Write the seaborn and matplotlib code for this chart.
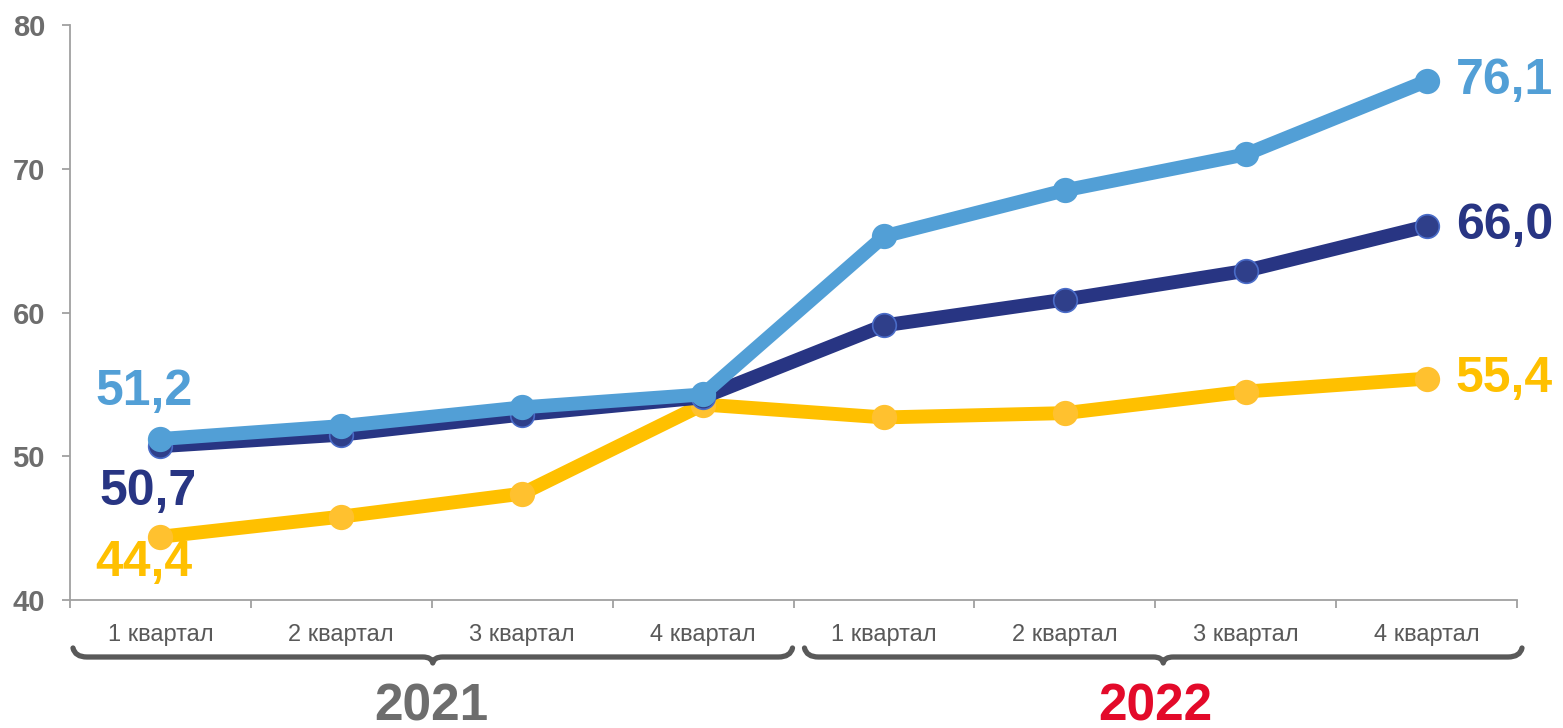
import numpy as np
import pandas as pd
import matplotlib
matplotlib.use("Agg")
import matplotlib.pyplot as plt
from matplotlib.path import Path
from matplotlib.patches import PathPatch
from matplotlib.transforms import IdentityTransform
import seaborn as sns

quarters = ["1 квартал", "2 квартал", "3 квартал", "4 квартал",
            "1 квартал", "2 квартал", "3 квартал", "4 квартал"]
years = ["2021", "2022"]
light_blue = [51.2, 52.1, 53.4, 54.3, 65.3, 68.5, 71.0, 76.1]
navy = [50.7, 51.5, 52.9, 54.1, 59.1, 60.9, 62.9, 66.0]
yellow = [44.4, 45.8, 47.4, 53.6, 52.7, 53.0, 54.5, 55.4]
y_ticks = [40, 50, 60, 70, 80]

sns.set_style("white")
plt.rcParams["font.family"] = ["Liberation Sans", "DejaVu Sans"]

W, H, DPI = 1563, 728, 100
fig = plt.figure(figsize=(W / DPI, H / DPI), dpi=DPI)
ax = fig.add_axes([70 / W, (H - 600) / H, (1517 - 70) / W, 575 / H])

idx = np.arange(len(quarters))
df = pd.DataFrame({"x": np.tile(idx, 3),
                   "v": yellow + navy + light_blue,
                   "s": ["yellow"] * 8 + ["navy"] * 8 + ["light"] * 8})

line_cols = {"yellow": "#FFC000", "navy": "#283583", "light": "#529FD6"}
mark_cols = {"yellow": "#FFC12F", "navy": "#2F3F8A", "light": "#529FD6"}
edge_cols = {"yellow": "#FFC12F", "navy": "#4A6CC8", "light": "#529FD6"}

for i, s in enumerate(["yellow", "navy", "light"]):
    sub = df[df.s == s]
    sns.lineplot(data=sub, x="x", y="v", ax=ax, color=line_cols[s], lw=10,
                 sort=False, zorder=2 + i, legend=False)
    ax.plot(sub.x, sub.v, ls="none", marker="o", ms=17,
            mfc=mark_cols[s], mec=edge_cols[s], mew=1.2, zorder=2 + i)

ax.set_xlim(-0.5, len(quarters) - 0.5)
ax.set_ylim(40, 80)
ax.set_yticks(y_ticks)
ax.set_yticklabels([str(t) for t in y_ticks], fontsize=21, fontweight="bold",
                   color="#6D6D6D")
ax.set_xticks(np.arange(-0.5, len(quarters), 1.0))
ax.set_xticklabels([])
ax.set_xticks(idx, minor=True)
ax.set_xticklabels(quarters, minor=True, fontsize=17, color="#595959")
ax.tick_params(axis="x", which="major", bottom=True, length=6, width=1.3,
               color="#A0A0A0", direction="out")
ax.tick_params(axis="x", which="minor", bottom=True, length=0, pad=17)
ax.tick_params(axis="y", left=True, length=6, width=1.3, color="#A0A0A0",
               pad=12, direction="out")
ax.set_xlabel("")
ax.set_ylabel("")
for sp in ["top", "right"]:
    ax.spines[sp].set_visible(False)
for sp in ["left", "bottom"]:
    ax.spines[sp].set_color("#A0A0A0")
    ax.spines[sp].set_linewidth(1.3)

# data labels
lab_kw = dict(fontsize=36, fontweight="bold", va="center")
fmt = lambda v: f"{v:.1f}".replace(".", ",")
ax.annotate(fmt(light_blue[-1]), (idx[-1], light_blue[-1]), xytext=(21, 0),
            textcoords="offset points", color=line_cols["light"], ha="left", **lab_kw)
ax.annotate(fmt(navy[-1]), (idx[-1], navy[-1]), xytext=(21, 0),
            textcoords="offset points", color=line_cols["navy"], ha="left", **lab_kw)
ax.annotate(fmt(yellow[-1]), (idx[-1], yellow[-1]), xytext=(21, 0),
            textcoords="offset points", color=line_cols["yellow"], ha="left", **lab_kw)
ax.annotate(fmt(light_blue[0]), (idx[0], light_blue[0]), xytext=(-12, 34),
            textcoords="offset points", color=line_cols["light"], ha="center", **lab_kw)
ax.annotate(fmt(navy[0]), (idx[0], navy[0]), xytext=(-9, -33),
            textcoords="offset points", color=line_cols["navy"], ha="center", **lab_kw)
ax.annotate(fmt(yellow[0]), (idx[0], yellow[0]), xytext=(-12, -19),
            textcoords="offset points", color=line_cols["yellow"], ha="center", **lab_kw)

# braces and year labels
fig.canvas.draw()
def px(xd):
    return ax.transData.transform((xd, 40))[0]

def brace(x0, x1, yb):
    xm = (x0 + x1) / 2
    verts = [(x0, yb + 9), (x0 + 2, yb), (x0 + 14, yb),
             (xm - 10, yb), (xm - 1, yb), (xm, yb - 6),
             (xm + 1, yb), (xm + 10, yb),
             (x1 - 14, yb), (x1 - 2, yb), (x1, yb + 9)]
    codes = [Path.MOVETO, Path.CURVE3, Path.CURVE3,
             Path.LINETO, Path.CURVE3, Path.CURVE3,
             Path.CURVE3, Path.CURVE3,
             Path.LINETO, Path.CURVE3, Path.CURVE3]
    patch = PathPatch(Path(verts, codes), fill=False, lw=3.8, ec="#595959",
                      capstyle="round", joinstyle="round",
                      transform=IdentityTransform())
    fig.add_artist(patch)

yb = H - 657
brace(px(-0.5) + 3, px(3.5) - 1, yb)
brace(px(3.5) + 11, px(7.5) + 5, yb)

year_cols = ["#6D6D6D", "#E30A2A"]
for j, (yr, c) in enumerate(zip(years, year_cols)):
    xc = (px(-0.5 + 4 * j) + px(3.5 + 4 * j)) / 2
    fig.text(xc / W, (H - 707) / H, yr, fontsize=37, fontweight="bold",
             color=c, ha="center", va="center")

fig.savefig("out.png", dpi=DPI)
